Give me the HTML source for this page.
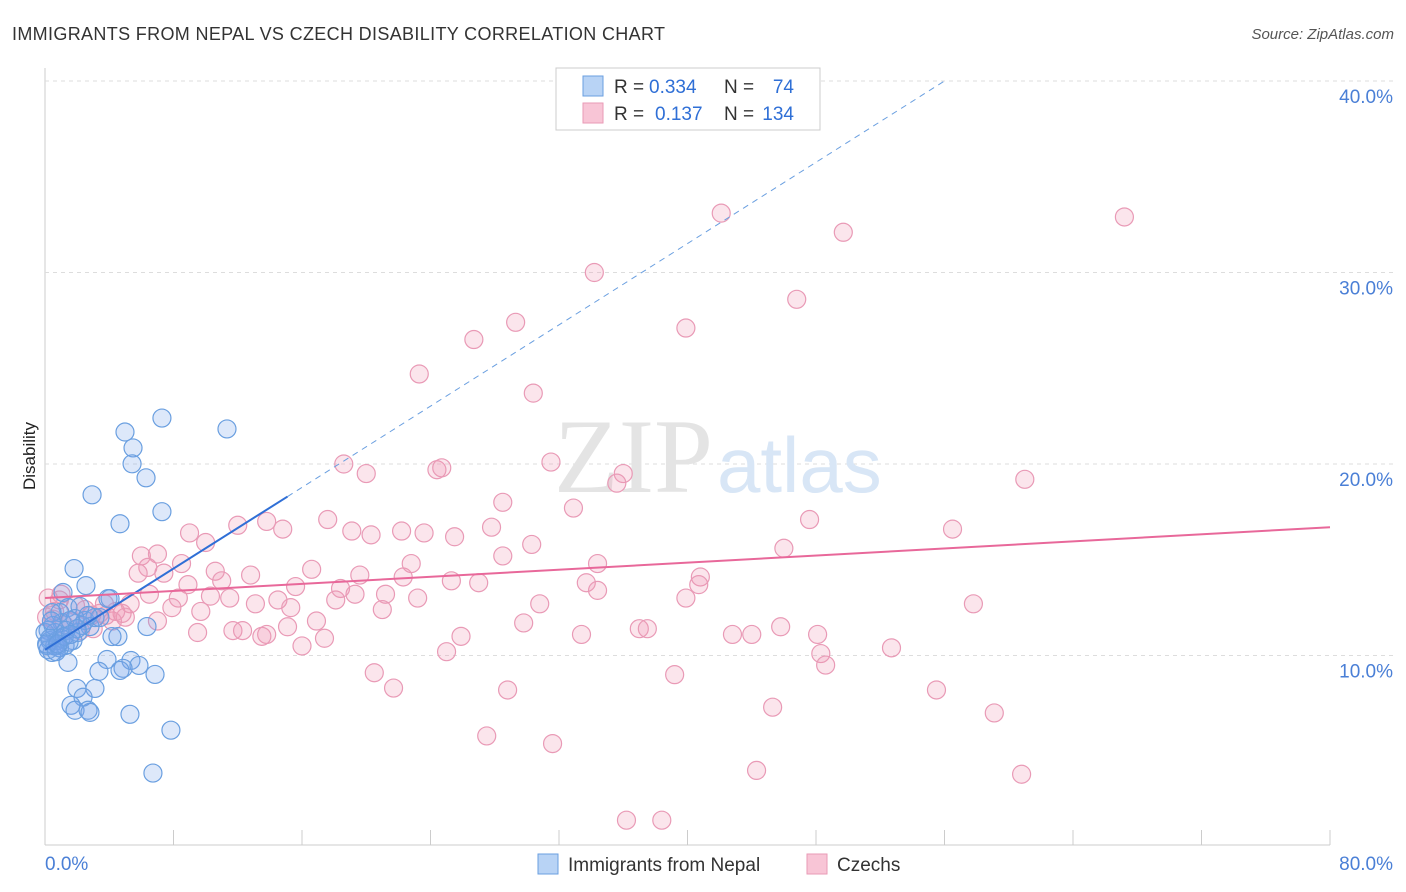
<!DOCTYPE html>
<html><head><meta charset="utf-8"><style>
body{margin:0;background:#fff;font-family:"Liberation Sans",sans-serif;}
svg{display:block}
</style></head><body>
<svg id="chart" width="1406" height="892">
<text x="12" y="40" font-size="18" fill="#333" textLength="653">IMMIGRANTS FROM NEPAL VS CZECH DISABILITY CORRELATION CHART</text>
<text x="1394" y="39" font-size="15" fill="#555" font-style="italic" text-anchor="end">Source: ZipAtlas.com</text>
<text x="35" y="456" font-size="17" fill="#222" transform="rotate(-90 35 456)" text-anchor="middle">Disability</text>
<g id="grid"></g>
<text x="713" y="492" font-size="106" fill="#e4e4e4" text-anchor="end" font-family="Liberation Serif,serif">ZIP</text>
<text x="717" y="492" font-size="78" fill="#d8e6f6">atlas</text>
<g id="marks"></g>
<g id="trends"></g>
<g>
<rect x="556" y="68" width="264" height="62" fill="#fff" stroke="#ccc"/>
<rect x="583" y="76" width="20" height="20" fill="#b8d3f5" stroke="#6a9fe0"/>
<text x="614" y="93" font-size="19" fill="#333">R =</text>
<text x="649" y="93" font-size="19" fill="#2f6fd6">0.334</text>
<text x="724" y="93" font-size="19" fill="#333">N =</text>
<text x="794" y="93" font-size="19" fill="#2f6fd6" text-anchor="end">74</text>
<rect x="583" y="103" width="20" height="20" fill="#f8c5d6" stroke="#e99ab6"/>
<text x="614" y="120" font-size="19" fill="#333">R =</text>
<text x="655" y="120" font-size="19" fill="#2f6fd6">0.137</text>
<text x="724" y="120" font-size="19" fill="#333">N =</text>
<text x="794" y="120" font-size="19" fill="#2f6fd6" text-anchor="end">134</text>
</g>
<g>
<rect x="538" y="854" width="20" height="20" fill="#b8d3f5" stroke="#6a9fe0"/>
<text x="568" y="871" font-size="19" fill="#333">Immigrants from Nepal</text>
<rect x="807" y="854" width="20" height="20" fill="#f8c5d6" stroke="#e99ab6"/>
<text x="837" y="871" font-size="19" fill="#333">Czechs</text>
</g>
</svg>
<script>
const xTickVals=[0,8,16,24,32,40,48,56,64,72,80];
const yTickVals=[10,20,30,40];
const yTickLabels=["10.0%","20.0%","30.0%","40.0%"];
const xEndLabels=["0.0%","80.0%"];
const nepalX=[6.72,7.84,6.85,6.35,7.28,4.98,5.48,5.42,6.29,7.28,2.93,4.67,11.33,1.81,2.55,1.12,4.05,4.54,4.17,5.35,5.85,4.86,4.67,3.86,3.36,3.11,1.99,2.37,1.62,1.87,2.68,2.80,5.29,1.43,0.44,0.81,1.06,1.43,2.18,2.49,2.80,1.74,1.25,0.31,0.19,0.62,0.93,1.87,2.05,3.11,3.42,3.92,2.30,1.56,0.44,0.12,0.75,1.31,2.68,0.0,0.5,0.2,0.6,1.0,0.3,0.9,1.5,0.1,0.7,1.2,2.0,0.4,0.8,1.6];
const nepalY=[3.86,6.10,9.01,11.51,22.40,21.67,20.84,20.01,19.28,17.51,18.39,16.88,21.83,14.54,13.65,13.29,12.97,10.99,10.99,9.74,9.48,9.33,9.22,9.79,9.17,8.28,8.28,7.82,7.40,7.14,7.14,7.03,6.93,9.64,10.16,10.52,11.72,12.50,12.56,11.83,11.51,10.78,10.52,10.78,11.31,11.20,12.24,11.93,11.20,11.98,11.98,12.97,11.57,11.83,12.24,10.52,10.78,11.31,12.09,11.2,11.57,10.3,10.5,10.9,10.9,10.4,10.7,10.6,10.2,11.0,11.4,11.8,10.6,11.1];
const czechX=[42.1,67.2,49.7,34.2,46.8,29.3,39.9,26.7,23.3,30.4,18.6,20.0,24.4,24.7,31.5,36.0,35.6,61.0,28.5,32.9,47.6,56.5,27.8,9.0,12.0,13.8,14.8,17.6,19.1,20.3,22.2,23.6,25.5,30.3,28.5,10.0,6.0,7.0,6.4,8.5,5.8,7.4,10.6,12.8,16.6,19.6,22.3,22.8,25.3,27.0,33.7,34.4,40.8,40.7,46.0,34.4,21.2,23.2,30.8,19.3,15.6,11.0,8.9,6.5,5.3,3.7,4.8,8.3,10.3,11.5,13.1,14.5,15.3,18.1,18.4,21.0,9.7,7.9,5.0,4.2,7.0,16.9,15.1,11.7,12.3,13.8,13.5,16.0,17.4,9.5,25.9,33.4,29.8,37.0,37.5,42.8,44.0,45.8,48.1,52.7,57.8,39.9,48.3,48.6,25.0,20.5,21.7,28.8,39.2,55.5,45.3,59.1,27.5,31.6,44.3,60.8,36.2,38.4,3.4,0.9,0.2,1.6,2.2,2.9,4.4,0.6,1.2,0.1,1.9,3.0,2.5,0.5,1.0,3.8];
const czechY=[33.1,32.9,32.1,30.0,28.6,27.4,27.1,26.5,24.7,23.7,20.0,19.5,19.7,19.8,20.1,19.5,19.0,19.2,18.0,17.7,17.1,16.6,16.7,16.4,16.8,17.0,16.6,17.1,16.5,16.3,16.5,16.4,16.2,15.8,15.2,15.9,15.2,15.3,14.6,14.8,14.3,14.3,14.4,14.2,14.5,14.2,14.1,14.8,13.9,13.8,13.8,14.8,14.1,13.7,15.6,13.4,13.2,13.0,12.7,13.2,13.6,13.9,13.7,13.2,12.7,12.7,12.2,13.0,13.1,13.0,12.7,12.9,12.5,12.9,13.5,12.4,12.3,12.5,12.0,11.8,11.8,11.8,11.5,11.3,11.3,11.1,11.0,10.5,10.9,11.2,11.0,11.1,11.7,11.4,11.4,11.1,11.1,11.5,11.1,10.4,12.7,13.0,10.1,9.5,10.2,9.1,8.3,8.2,9.0,8.2,7.3,7.0,5.8,5.4,4.0,3.8,1.4,1.4,12.2,12.9,13.0,11.8,11.3,12.1,12.3,12.3,11.6,12.0,12.6,11.4,12.4,11.9,13.2,12.1];
const nepalTrend=[[0,10.3],[15.1,18.3],[56.0,40.0]];
const czechTrend=[[0,13.0],[80,16.7]];
const X=v=>45+v/80*1285, Y=v=>847-v*19.15;
const NS="http://www.w3.org/2000/svg";
function mk(t,a,p){const e=document.createElementNS(NS,t);for(const k in a)e.setAttribute(k,a[k]);p.appendChild(e);return e;}
const grid=document.getElementById('grid');
const axl=mk('line',{x1:45,y1:68,x2:45,y2:845,stroke:'#ccc'},grid);


const axb=mk('line',{x1:45,y1:845,x2:1330,y2:845,stroke:'#ccc'},grid);


yTickVals.forEach((v,i)=>{
 const g=mk('line',{x1:45,y1:Y(v),x2:1394,y2:Y(v),stroke:'#ddd','stroke-dasharray':'4 4'},grid);
 
 
 const t=mk('text',{x:1393,y:Y(v)+22,'font-size':19,fill:'#4a7fd6','text-anchor':'end'},grid);
 t.textContent=yTickLabels[i];
 
 
});
xTickVals.forEach(v=>{
 const l=mk('line',{x1:X(v),y1:830,x2:X(v),y2:845,stroke:'#ccc'},grid);
 
 
});
const t0=mk('text',{x:45,y:870,'font-size':19,fill:'#4a7fd6'},grid);t0.textContent=xEndLabels[0];


const t1=mk('text',{x:1393,y:870,'font-size':19,fill:'#4a7fd6','text-anchor':'end'},grid);t1.textContent=xEndLabels[1];


const marks=document.getElementById('marks');
czechX.forEach((x,i)=>{
 const c=mk('circle',{cx:X(x),cy:Y(czechY[i]),r:9,fill:'rgba(240,150,180,0.25)',stroke:'#e99ab6','stroke-width':1.2},marks);
 
 
});
nepalX.forEach((x,i)=>{
 const c=mk('circle',{cx:X(x),cy:Y(nepalY[i]),r:9,fill:'rgba(120,165,235,0.25)',stroke:'#6a9fe0','stroke-width':1.2},marks);
 
 
});
const tr=document.getElementById('trends');
const n1=mk('line',{x1:X(nepalTrend[0][0]),y1:Y(nepalTrend[0][1]),x2:X(nepalTrend[1][0]),y2:Y(nepalTrend[1][1]),stroke:'#2f6fd6','stroke-width':2},tr);


const n2=mk('line',{x1:X(nepalTrend[1][0]),y1:Y(nepalTrend[1][1]),x2:X(nepalTrend[2][0]),y2:Y(nepalTrend[2][1]),stroke:'#6a9fe0','stroke-width':1,'stroke-dasharray':'6 5'},tr);


const c1=mk('line',{x1:X(czechTrend[0][0]),y1:Y(czechTrend[0][1]),x2:X(czechTrend[1][0]),y2:Y(czechTrend[1][1]),stroke:'#e8689a','stroke-width':2},tr);


</script>
</body></html>
